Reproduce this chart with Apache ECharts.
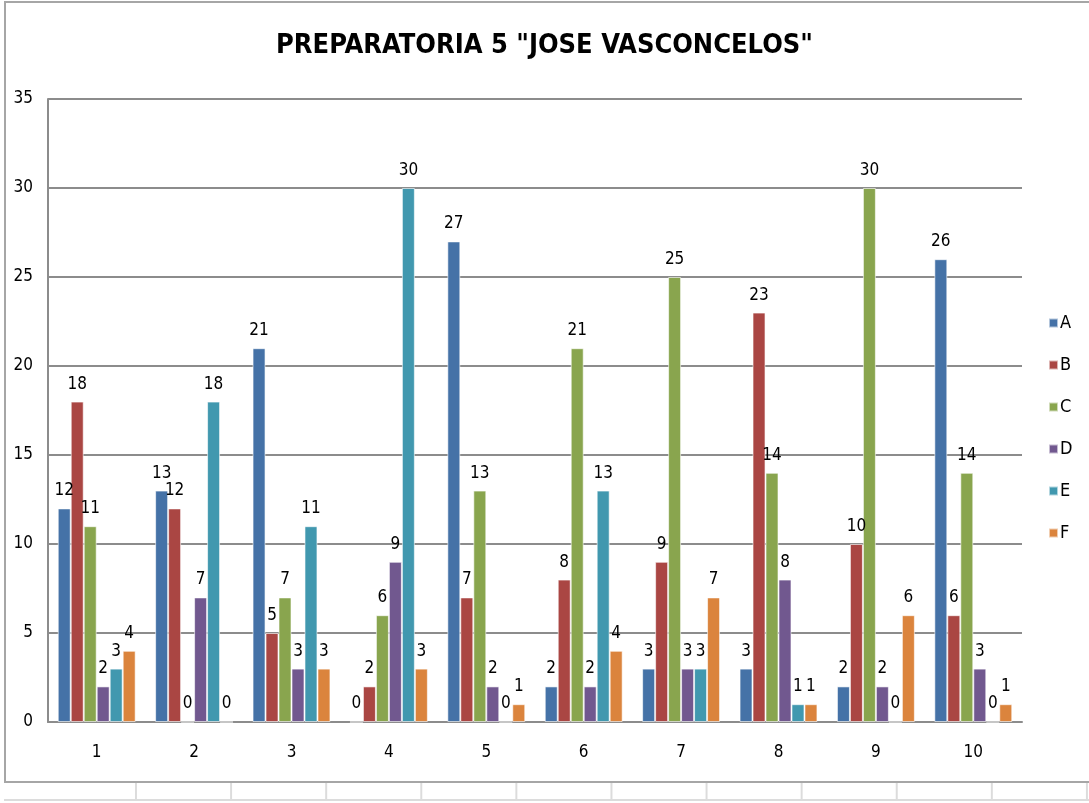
<!DOCTYPE html>
<html>
<head>
<meta charset="utf-8">
<script src="https://cdn.jsdelivr.net/npm/echarts@6/dist/echarts.min.js"></script>
<style>
  html, body { margin: 0; padding: 0; background: #fff; }
  body { width: 1089px; height: 803px; position: relative; overflow: hidden; }
  .cells {
    position: absolute; left: 4px; top: 781px; width: 1100px; height: 18px;
    border-bottom: 2px solid #dcdcdc;
  }
  .cells-v {
    position: absolute; left: 135px; top: 781px; width: 960px; height: 18px;
    background-image: linear-gradient(to right, #dcdcdc 0, #dcdcdc 2px, transparent 2px);
    background-size: 95.1px 100%;
  }
  .frame {
    position: absolute; left: 4px; top: 1px; width: 1100px; height: 782px;
    border: 2px solid #a6a6a6; border-right: none; box-sizing: border-box;
  }
  #chart { position: absolute; left: 0; top: 0; width: 1089px; height: 803px; }
</style>
</head>
<body>
<div class="cells"></div>
<div class="cells-v"></div>
<div class="frame"></div>
<div id="chart"></div>
<script>
const categories = ['1', '2', '3', '4', '5', '6', '7', '8', '9', '10']
const seriesA = [12, 13, 21, 0, 27, 2, 3, 3, 2, 26]
const seriesB = [18, 12, 5, 2, 7, 8, 9, 23, 10, 6]
const seriesC = [11, 0, 7, 6, 13, 21, 25, 14, 30, 14]
const seriesD = [2, 7, 3, 9, 2, 2, 3, 8, 2, 3]
const seriesE = [3, 18, 11, 30, 0, 13, 3, 1, 0, 0]
const seriesF = [4, 0, 3, 3, 1, 4, 7, 1, 6, 1]
const seriesNames = ['A', 'B', 'C', 'D', 'E', 'F']
const colors = ['#4572A7', '#AA4643', '#89A54E', '#71588F', '#4198AF', '#DB843D']

const fontFam = '"Liberation Sans Narrow", "DejaVu Sans Condensed", sans-serif'

const chart = echarts.init(document.getElementById('chart'))

const option = {
  backgroundColor: 'transparent',
  animation: false,
  color: colors,
  title: {
    text: 'PREPARATORIA 5 "JOSE VASCONCELOS"',
    left: 'center',
    top: 27,
    textStyle: {
      fontFamily: fontFam,
      fontWeight: 'bold',
      fontSize: 27,
      color: '#000'
    }
  },
  legend: {
    orient: 'vertical',
    left: 1043,
    top: 309,
    itemWidth: 9,
    itemHeight: 9,
    itemGap: 24,
    icon: 'rect',
    textStyle: {
      fontFamily: fontFam,
      fontSize: 18,
      lineHeight: 16,
      color: '#000',
      padding: [0, 0, 0, -3]
    },
    data: seriesNames
  },
  grid: {
    left: 48,
    right: 67,
    top: 99,
    bottom: 81
  },
  xAxis: {
    type: 'category',
    data: categories,
    axisLine: { lineStyle: { color: '#8c8c8c', width: 2 } },
    axisTick: { show: false },
    axisLabel: {
      color: '#000',
      fontFamily: fontFam,
      fontSize: 17,
      margin: 22
    }
  },
  yAxis: {
    type: 'value',
    min: 0,
    max: 35,
    interval: 5,
    axisLine: { show: true, lineStyle: { color: '#8c8c8c', width: 2 } },
    axisTick: { show: false },
    splitLine: { lineStyle: { color: '#8c8c8c', width: 2 } },
    axisLabel: {
      color: '#000',
      fontFamily: fontFam,
      fontSize: 17,
      margin: 15
    }
  },
  series: [seriesA, seriesB, seriesC, seriesD, seriesE, seriesF].map((data, i) => ({
    name: seriesNames[i],
    type: 'bar',
    barGap: '0%',
    barCategoryGap: '20%',
    itemStyle: {
      color: colors[i],
      borderColor: 'rgba(255,255,255,0.6)',
      borderWidth: 1
    },
    label: {
      show: true,
      position: 'top',
      distance: 9,
      color: '#000',
      fontFamily: fontFam,
      fontSize: 17
    },
    data: data
  }))
}

chart.setOption(option)
</script>
</body>
</html>
